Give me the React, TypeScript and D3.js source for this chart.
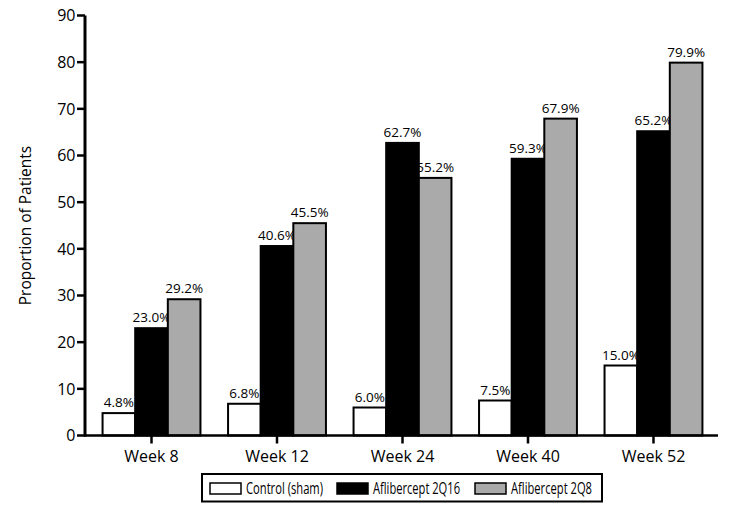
import { useEffect, useRef } from "react";
import * as d3 from "d3";

// chart data
const weeks = ["Week 8", "Week 12", "Week 24", "Week 40", "Week 52"];
const seriesNames = ["Control (sham)", "Aflibercept 2Q16", "Aflibercept 2Q8"];
const control = [4.8, 6.8, 6.0, 7.5, 15.0];
const q16 = [23.0, 40.6, 62.7, 59.3, 65.2];
const q8 = [29.2, 45.5, 55.2, 67.9, 79.9];
const yTicks = [0, 10, 20, 30, 40, 50, 60, 70, 80, 90];

const colors = ["#ffffff", "#000000", "#aaaaaa"];
const font = "'Open Sans', 'Noto Sans', sans-serif";
// legend text is condensed in the original, squeeze it to fit
const legendX = [210, 337, 475];
const legendTextW = [77, 87, 81];

const App = () => {
  const ref = useRef<SVGSVGElement | null>(null);

  useEffect(() => {
    const svg = d3.select(ref.current);
    svg.selectAll("*").remove();

    const width = 736;
    const height = 511;
    svg.attr("width", width).attr("height", height);

    const x = d3.scaleBand<string>().domain(weeks).range([85, 720]).paddingInner(0.22).paddingOuter(0.14);
    const x1 = d3.scaleBand<string>().domain(seriesNames).range([0, x.bandwidth()]);
    const y = d3.scaleLinear().domain([0, 90]).range([435.5, 15.5]);

    const series = [control, q16, q8];

    // bars
    series.forEach((vals, si) => {
      const g = svg.append("g");
      g.selectAll("rect")
        .data(vals)
        .enter()
        .append("rect")
        .attr("x", (_d, i) => x(weeks[i])! + x1(seriesNames[si])!)
        .attr("y", (d) => y(d))
        .attr("width", x1.bandwidth())
        .attr("height", (d) => y(0) - y(d))
        .attr("fill", colors[si])
        .attr("stroke", "#000")
        .attr("stroke-width", 2);

      g.selectAll("text")
        .data(vals)
        .enter()
        .append("text")
        .attr("x", (_d, i) => x(weeks[i])! + x1(seriesNames[si])! + x1.bandwidth() / 2)
        .attr("y", (d) => y(d) - 6)
        .attr("text-anchor", "middle")
        .attr("font-family", font)
        .attr("font-size", 13.5)
        .attr("fill", "#000")
        .text((d) => d.toFixed(1) + "%");
    });

    // y axis
    const yAxis = svg.append("g");
    yAxis.append("line")
      .attr("x1", 85).attr("x2", 85)
      .attr("y1", y(90)).attr("y2", y(0) + 1)
      .attr("stroke", "#000").attr("stroke-width", 3);
    yAxis.selectAll(".tick")
      .data(yTicks)
      .enter()
      .append("line")
      .attr("x1", 77).attr("x2", 85)
      .attr("y1", (d) => y(d)).attr("y2", (d) => y(d))
      .attr("stroke", "#000").attr("stroke-width", 2.5);
    yAxis.selectAll("text")
      .data(yTicks)
      .enter()
      .append("text")
      .attr("x", 75.5)
      .attr("y", (d) => y(d))
      .attr("dy", "0.36em")
      .attr("text-anchor", "end")
      .attr("font-family", font)
      .attr("font-size", 16)
      .text((d) => d);

    svg.append("text")
      .attr("transform", `translate(31, ${(y(0) + y(90)) / 2}) rotate(-90)`)
      .attr("text-anchor", "middle")
      .attr("font-family", font)
      .attr("font-size", 15.5)
      .text("Proportion of Patients");

    // x axis
    const xAxis = svg.append("g");
    xAxis.append("line")
      .attr("x1", 84).attr("x2", 718)
      .attr("y1", y(0)).attr("y2", y(0))
      .attr("stroke", "#000").attr("stroke-width", 2.5);
    xAxis.selectAll(".tick")
      .data(weeks)
      .enter()
      .append("line")
      .attr("x1", (d) => x(d)! + x.bandwidth() / 2)
      .attr("x2", (d) => x(d)! + x.bandwidth() / 2)
      .attr("y1", y(0)).attr("y2", y(0) + 8)
      .attr("stroke", "#000").attr("stroke-width", 2.5);
    xAxis.selectAll("text")
      .data(weeks)
      .enter()
      .append("text")
      .attr("x", (d) => x(d)! + x.bandwidth() / 2)
      .attr("y", 462)
      .attr("text-anchor", "middle")
      .attr("font-family", font)
      .attr("font-size", 16)
      .text((d) => d);

    // legend
    const legend = svg.append("g");
    legend.append("rect")
      .attr("x", 202).attr("y", 474)
      .attr("width", 400).attr("height", 27.5)
      .attr("fill", "#fff").attr("stroke", "#000").attr("stroke-width", 2);
    seriesNames.forEach((name, i) => {
      legend.append("rect")
        .attr("x", legendX[i]).attr("y", 483)
        .attr("width", 31).attr("height", 11)
        .attr("fill", colors[i]).attr("stroke", "#000").attr("stroke-width", 1.5);
      legend.append("text")
        .attr("x", legendX[i] + 36).attr("y", 494)
        .attr("font-family", font)
        .attr("font-size", 16)
        .attr("textLength", legendTextW[i])
        .attr("lengthAdjust", "spacingAndGlyphs")
        .text(name);
    });
  }, []);

  return <svg ref={ref} style={{ display: "block", position: "absolute", left: 0, top: 0 }}></svg>;
};

export default App;
